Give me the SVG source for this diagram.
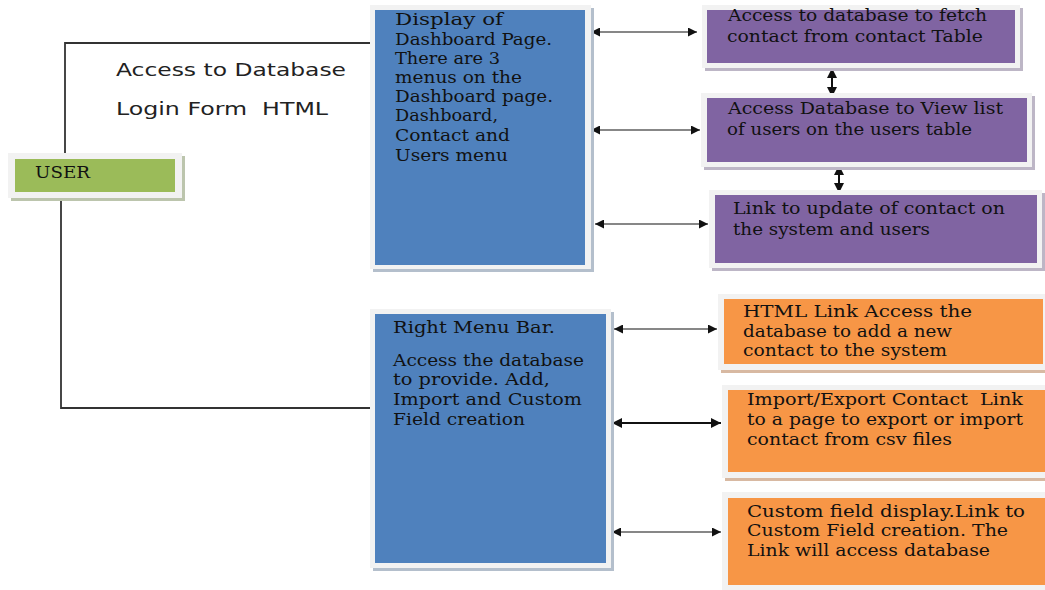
<svg xmlns="http://www.w3.org/2000/svg" width="1045" height="590" viewBox="0 0 1045 590">
  <style>
    .frame { fill: #f2f2f2; }
    .sh-blue { fill: #b4bfcc; }
    .sh-purple { fill: #bdb6c6; }
    .sh-orange { fill: #d8b9a2; }
    .sh-green { fill: #bcc5ad; }
    .blue { fill: #4f81bd; }
    .purple { fill: #8064a2; }
    .orange { fill: #f79646; }
    .green { fill: #9bbb59; }
    text { white-space: pre; }
    .t { font-family: "DejaVu Serif", "Liberation Serif", serif; font-size: 16px; fill: #111; }
    .s { font-family: "DejaVu Sans", "Liberation Sans", sans-serif; font-size: 18px; fill: #222; }
    .link { fill: none; stroke: #333; stroke-width: 1.8; }
    .arr { stroke: #111; stroke-width: 1.2; marker-start: url(#head); marker-end: url(#head); }
    .arr2 { stroke: #111; stroke-width: 2; marker-start: url(#head2); marker-end: url(#head2); }
  </style>
  <defs>
    <marker id="head" viewBox="0 0 10 10" refX="10" refY="5" markerWidth="12" markerHeight="9" markerUnits="userSpaceOnUse" orient="auto-start-reverse">
      <path d="M0,0 L10,5 L0,10 Z" fill="#111"/>
    </marker>
    <marker id="head2" viewBox="0 0 10 10" refX="10" refY="5" markerWidth="10" markerHeight="11" markerUnits="userSpaceOnUse" orient="auto-start-reverse">
      <path d="M0,0 L10,5 L0,10 Z" fill="#111"/>
    </marker>
  </defs>

  <!-- connectors -->
  <g id="connectors">
    <polyline class="link" points="65,155 65,43 370,43"/>
    <polyline class="link" points="61,198 61,408 370,408"/>
    <line class="arr" x1="591" y1="32" x2="697" y2="32"/>
    <line class="arr" x1="591" y1="130" x2="700" y2="130"/>
    <line class="arr" x1="595" y1="224" x2="708" y2="224"/>
    <line class="arr2" x1="832" y1="68" x2="832" y2="97"/>
    <line class="arr2" x1="839" y1="165" x2="839" y2="193"/>
    <line class="arr" x1="614" y1="329" x2="717" y2="329"/>
    <line class="arr2" x1="612" y1="423" x2="721" y2="423"/>
    <line class="arr" x1="612" y1="532" x2="721" y2="532"/>
  </g>

  <!-- free labels -->
  <g id="labels">
    <text class="s" x="116" y="76" textLength="230" lengthAdjust="spacingAndGlyphs">Access to Database</text>
    <text class="s" x="116" y="115" textLength="212" lengthAdjust="spacingAndGlyphs">Login Form  HTML</text>
  </g>

  <g id="user">
    <rect class="sh-green" x="11" y="156" width="174" height="45"/>
    <rect class="frame" x="8" y="153" width="174" height="45"/>
    <rect class="green" x="15" y="159" width="160" height="33"/>
    <text class="t" x="35" y="178" textLength="55" lengthAdjust="spacingAndGlyphs">USER</text>
  </g>

  <g id="dashboard">
    <rect class="sh-blue" x="373" y="8" width="221" height="264"/>
    <rect class="frame" x="370" y="5" width="221" height="264"/>
    <rect class="blue" x="375" y="10" width="210" height="255"/>
    <text class="t" x="395" y="25" textLength="108" lengthAdjust="spacingAndGlyphs">Display of</text>
    <text class="t" x="395" y="45" textLength="157" lengthAdjust="spacingAndGlyphs">Dashboard Page.</text>
    <text class="t" x="395" y="64" textLength="105" lengthAdjust="spacingAndGlyphs">There are 3</text>
    <text class="t" x="395" y="83" textLength="127" lengthAdjust="spacingAndGlyphs">menus on the</text>
    <text class="t" x="395" y="102" textLength="158" lengthAdjust="spacingAndGlyphs">Dashboard page.</text>
    <text class="t" x="395" y="121" textLength="103" lengthAdjust="spacingAndGlyphs">Dashboard,</text>
    <text class="t" x="395" y="141" textLength="115" lengthAdjust="spacingAndGlyphs">Contact and</text>
    <text class="t" x="395" y="161" textLength="113" lengthAdjust="spacingAndGlyphs">Users menu</text>
  </g>

  <g id="fetch-contact">
    <rect class="sh-purple" x="705" y="8" width="318" height="63"/>
    <rect class="frame" x="702" y="5" width="318" height="63"/>
    <rect class="purple" x="707" y="10" width="308" height="53"/>
    <text class="t" x="728" y="21" textLength="259" lengthAdjust="spacingAndGlyphs">Access to database to fetch</text>
    <text class="t" x="727" y="42" textLength="256" lengthAdjust="spacingAndGlyphs">contact from contact Table</text>
  </g>

  <g id="view-users">
    <rect class="sh-purple" x="704" y="96" width="331" height="74"/>
    <rect class="frame" x="701" y="93" width="331" height="74"/>
    <rect class="purple" x="707" y="98" width="320" height="64"/>
    <text class="t" x="728" y="114" textLength="275" lengthAdjust="spacingAndGlyphs">Access Database to View list</text>
    <text class="t" x="727" y="135" textLength="245" lengthAdjust="spacingAndGlyphs">of users on the users table</text>
  </g>

  <g id="update-contact">
    <rect class="sh-purple" x="712" y="193" width="333" height="78"/>
    <rect class="frame" x="709" y="190" width="333" height="78"/>
    <rect class="purple" x="715" y="195" width="322" height="68"/>
    <text class="t" x="733" y="214" textLength="272" lengthAdjust="spacingAndGlyphs">Link to update of contact on</text>
    <text class="t" x="733" y="235" textLength="197" lengthAdjust="spacingAndGlyphs">the system and users</text>
  </g>

  <g id="right-menu">
    <rect class="sh-blue" x="373" y="312" width="241" height="259"/>
    <rect class="frame" x="370" y="309" width="241" height="259"/>
    <rect class="blue" x="375" y="314" width="231" height="249"/>
    <text class="t" x="393" y="333" textLength="162" lengthAdjust="spacingAndGlyphs">Right Menu Bar.</text>
    <text class="t" x="393" y="366" textLength="191" lengthAdjust="spacingAndGlyphs">Access the database</text>
    <text class="t" x="393" y="385" textLength="157" lengthAdjust="spacingAndGlyphs">to provide. Add,</text>
    <text class="t" x="393" y="405" textLength="189" lengthAdjust="spacingAndGlyphs">Import and Custom</text>
    <text class="t" x="393" y="425" textLength="132" lengthAdjust="spacingAndGlyphs">Field creation</text>
  </g>

  <g id="add-contact">
    <rect class="sh-orange" x="721" y="297" width="330" height="76"/>
    <rect class="frame" x="718" y="294" width="330" height="76"/>
    <rect class="orange" x="724" y="299" width="319" height="65"/>
    <text class="t" x="743" y="317" textLength="229" lengthAdjust="spacingAndGlyphs">HTML Link Access the</text>
    <text class="t" x="743" y="337" textLength="209" lengthAdjust="spacingAndGlyphs">database to add a new</text>
    <text class="t" x="743" y="356" textLength="204" lengthAdjust="spacingAndGlyphs">contact to the system</text>
  </g>

  <g id="import-export">
    <rect class="sh-orange" x="725" y="388" width="330" height="93"/>
    <rect class="frame" x="722" y="385" width="330" height="93"/>
    <rect class="orange" x="728" y="390" width="320" height="82"/>
    <text class="t" x="747" y="405" textLength="276" lengthAdjust="spacingAndGlyphs">Import/Export Contact  Link</text>
    <text class="t" x="747" y="425" textLength="276" lengthAdjust="spacingAndGlyphs">to a page to export or import</text>
    <text class="t" x="747" y="445" textLength="205" lengthAdjust="spacingAndGlyphs">contact from csv files</text>
  </g>

  <g id="custom-field">
    <rect class="frame" x="722" y="492" width="330" height="100"/>
    <rect class="orange" x="728" y="498" width="320" height="87"/>
    <text class="t" x="747" y="517" textLength="278" lengthAdjust="spacingAndGlyphs">Custom field display.Link to</text>
    <text class="t" x="747" y="536" textLength="261" lengthAdjust="spacingAndGlyphs">Custom Field creation. The</text>
    <text class="t" x="747" y="556" textLength="243" lengthAdjust="spacingAndGlyphs">Link will access database</text>
  </g>
</svg>
